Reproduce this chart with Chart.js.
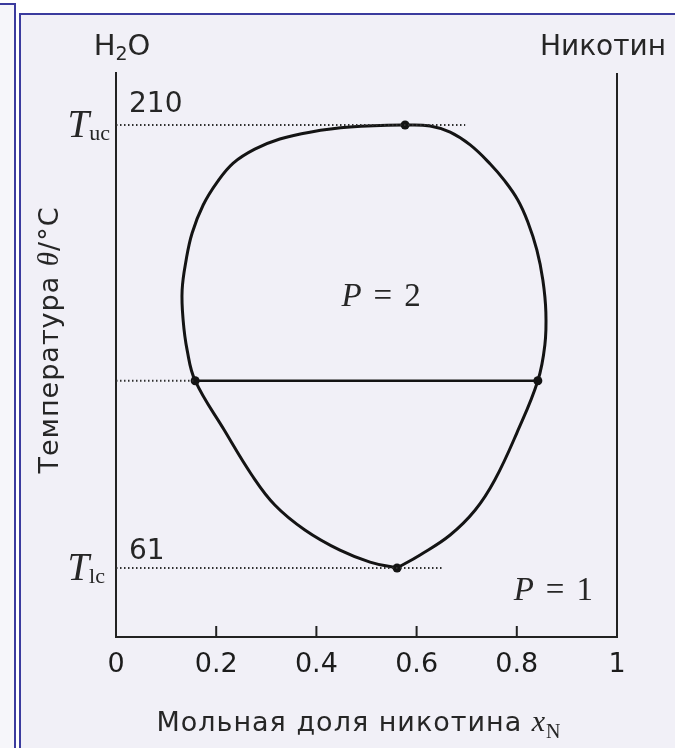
<!DOCTYPE html>
<html>
<head>
<meta charset="utf-8">
<script src="https://cdn.jsdelivr.net/npm/chart.js@4/dist/chart.umd.min.js"></script>
<style>
  html, body { margin: 0; padding: 0; background: #ffffff; width: 675px; height: 748px; overflow: hidden; }
  #side { position: absolute; left: -4px; top: 3px; width: 16px; height: 760px; border: 2px solid #3b3b9e; background: #f6f6fa; }
  #frame { position: absolute; left: 19px; top: 13px; width: 680px; height: 760px; border: 2px solid #3b3b9e; background: #f1f0f7; }
  #wrap { position: absolute; left: 0; top: 0; width: 675px; height: 748px; }
</style>
</head>
<body>
<div id="side"></div>
<div id="frame"></div>
<div id="wrap"><canvas id="diagram" width="675" height="748"></canvas></div>
<script>
// closed coexistence curve, from the lower critical point up the right side and back down the left
const loopX = [0.561, 0.607, 0.667, 0.717, 0.756, 0.800, 0.842,
               0.856, 0.858, 0.852, 0.840, 0.822, 0.802, 0.776, 0.747, 0.707, 0.667, 0.627, 0.577,
               0.467, 0.387, 0.327, 0.277, 0.234, 0.202, 0.174, 0.152, 0.140, 0.132, 0.134, 0.142, 0.158,
               0.216, 0.271, 0.317, 0.377, 0.447, 0.507, 0.561];
const loopT = [61, 65.4, 72.1, 80.5, 90.6, 106.4, 124,
               136.0, 147.1, 157.9, 168.0, 177.4, 184.8, 191.2, 196.9, 203.3, 207.6, 209.7, 210,
               209.3, 207.6, 205.3, 201.9, 197.2, 190.8, 183.1, 173.7, 164.6, 154.5, 144.4, 134.3, 124,
               107.4, 92.3, 82.2, 73.8, 67.0, 63.0, 61];

// tie line
const tieX = [0.158, 0.842];
const tieT = 124;

// critical points: upper (Tuc) and lower (Tlc)
const critX = [0.577, 0.561];
const critT = [210, 61];

// how far the dotted guide lines reach to the right
const guideEndX = [0.697, 0.651];

const xTicks = [0, 0.2, 0.4, 0.6, 0.8, 1];
const tempMin = 37.8;
const tempMax = 227.5;

const ink = '#141414';
const textInk = '#262626';

function pts(xs, ys) {
  return xs.map((x, i) => ({ x: x, y: Array.isArray(ys) ? ys[i] : ys }));
}

const dotted = { borderColor: '#2e2e2e', borderWidth: 2, borderDash: [1.5, 2.5], pointRadius: 0, showLine: true, tension: 0 };

const datasets = [
  Object.assign({ data: [{ x: 0, y: critT[0] }, { x: guideEndX[0], y: critT[0] }] }, dotted),
  Object.assign({ data: [{ x: 0, y: critT[1] }, { x: guideEndX[1], y: critT[1] }] }, dotted),
  Object.assign({ data: [{ x: 0, y: tieT }, { x: tieX[0], y: tieT }] }, dotted),
  {
    data: pts(loopX, loopT),
    showLine: true, borderColor: ink, borderWidth: 3, tension: 0.4, pointRadius: 0
  },
  {
    data: pts(tieX, tieT),
    showLine: true, borderColor: ink, borderWidth: 2.5, tension: 0,
    pointRadius: 4.5, pointBackgroundColor: ink, pointBorderWidth: 0
  },
  {
    data: pts(critX, critT),
    showLine: false, pointRadius: 4.5, pointBackgroundColor: ink, pointBorderWidth: 0
  }
];

// draws text pieces one after the other: [text, font, dy, gapAfter]
function drawRun(ctx, parts, x, y, align) {
  let total = 0;
  parts.forEach(p => { ctx.font = p[1]; total += ctx.measureText(p[0]).width + (p[3] || 0); });
  let cx = align === 'center' ? x - total / 2 : (align === 'right' ? x - total : x);
  parts.forEach(p => {
    ctx.font = p[1];
    ctx.fillText(p[0], cx, y + (p[2] || 0));
    cx += ctx.measureText(p[0]).width + (p[3] || 0);
  });
}

const decorations = {
  id: 'decorations',
  afterDraw(chart) {
    const ctx = chart.ctx;
    const area = chart.chartArea;
    const xs = chart.scales.x;
    const ys = chart.scales.y;
    ctx.save();

    // right axis line
    ctx.strokeStyle = '#222';
    ctx.lineWidth = 2;
    ctx.beginPath();
    ctx.moveTo(area.right, area.top);
    ctx.lineTo(area.right, area.bottom + 1);
    ctx.stroke();

    // inward tick marks on the bottom axis
    xTicks.slice(1, -1).forEach(v => {
      const px = xs.getPixelForValue(v);
      ctx.beginPath();
      ctx.moveTo(px, area.bottom);
      ctx.lineTo(px, area.bottom - 11);
      ctx.stroke();
    });

    ctx.fillStyle = textInk;
    ctx.textBaseline = 'alphabetic';
    const sans = '"DejaVu Sans", sans-serif';
    const serif = '"Liberation Serif", "Times New Roman", serif';

    // component names above the axes
    drawRun(ctx, [['H', '29px ' + sans], ['2', '19px ' + sans, 5], ['O', '29px ' + sans]], xs.getPixelForValue(0) + 6, 55, 'center');
    drawRun(ctx, [['Никотин', '28px ' + sans]], 666, 55, 'right');

    // critical temperatures
    const yUc = ys.getPixelForValue(critT[0]);
    const yLc = ys.getPixelForValue(critT[1]);
    drawRun(ctx, [['210', '28px ' + sans]], area.left + 13, yUc - 13, 'left');
    drawRun(ctx, [['61', '28px ' + sans]], area.left + 13, yLc - 9, 'left');
    drawRun(ctx, [['T', 'italic 39px ' + serif], ['uc', '22px ' + serif, 3]], area.left - 6, yUc + 12, 'right');
    drawRun(ctx, [['T', 'italic 39px ' + serif], ['lc', '22px ' + serif, 3]], area.left - 11, yLc + 12, 'right');

    // phase counts
    drawRun(ctx, [['P', 'italic 33px ' + serif, 0, 12], ['=', '33px ' + serif, 0, 12], ['2', '33px ' + serif]],
      xs.getPixelForValue(0.45), ys.getPixelForValue(149), 'left');
    drawRun(ctx, [['P', 'italic 33px ' + serif, 0, 12], ['=', '33px ' + serif, 0, 12], ['1', '33px ' + serif]],
      xs.getPixelForValue(0.952), ys.getPixelForValue(50.3), 'right');

    // x axis title
    ctx.letterSpacing = '1px';
    drawRun(ctx, [['Мольная доля никотина ', '27px ' + sans], ['x', 'italic 30px ' + serif], ['N', '20px ' + serif, 7]], 359, 731, 'center');

    // y axis title
    ctx.translate(58, 340);
    ctx.rotate(-Math.PI / 2);
    drawRun(ctx, [['Температура ', '27px ' + sans], ['θ', 'italic 29px ' + serif], ['/°C', '27px ' + sans]], 0, 0, 'center');

    ctx.restore();
  }
};

new Chart(document.getElementById('diagram').getContext('2d'), {
  type: 'scatter',
  data: { datasets: datasets },
  options: {
    responsive: false,
    animation: false,
    layout: { padding: { top: 73, right: 58, left: 0, bottom: 0 } },
    plugins: { legend: { display: false }, tooltip: { enabled: false } },
    scales: {
      x: {
        type: 'linear',
        min: 0,
        max: 1,
        afterBuildTicks: s => { s.ticks = xTicks.map(v => ({ value: v })); },
        afterFit: s => { s.height = 111; },
        grid: { display: false },
        border: { display: true, color: '#222', width: 2 },
        ticks: {
          padding: 4,
          color: '#1c1c1c',
          font: { family: '"DejaVu Sans", sans-serif', size: 27 },
          callback: v => (v === 0 || v === 1) ? String(v) : v.toFixed(1)
        }
      },
      y: {
        type: 'linear',
        min: tempMin,
        max: tempMax,
        afterFit: s => { s.width = 116; },
        grid: { display: false },
        border: { display: true, color: '#222', width: 2 },
        ticks: { display: false }
      }
    }
  },
  plugins: [decorations]
});
</script>
</body>
</html>
